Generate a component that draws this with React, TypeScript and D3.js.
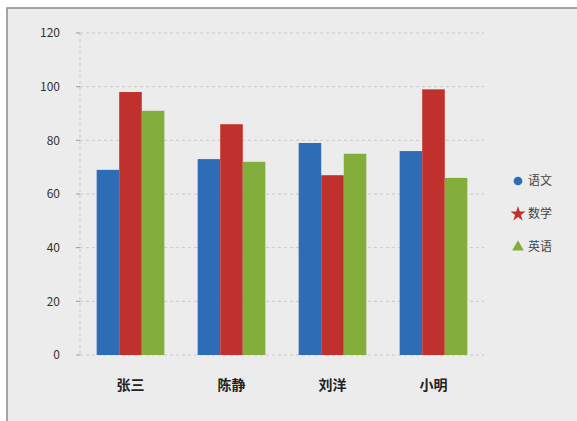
import React from "react";
import * as d3 from "d3";

const categories = ["张三", "陈静", "刘洋", "小明"];
const seriesNames = ["语文", "数学", "英语"];
const blueValues = [69, 73, 79, 76];
const redValues = [98, 86, 67, 99];
const greenValues = [91, 72, 75, 66];
const yTicks = [0, 20, 40, 60, 80, 100, 120];
const colors = ["#2f6cb6", "#c0302c", "#84ae3c"];

const W = 577;
const H = 421;
const left = 80;
const right = 484;
const top = 33;
const bottom = 355;

export default function App() {
  const series = [blueValues, redValues, greenValues];
  const y = d3.scaleLinear().domain([0, 120]).range([bottom, top]);
  const x0 = d3.scaleBand<string>().domain(categories).range([left, right]).padding(0);
  const bw = x0.bandwidth();
  const x1 = d3
    .scaleBand<string>()
    .domain(seriesNames)
    .range([bw * 0.165, bw * 0.835])
    .padding(0);
  const font = "'Noto Sans CJK SC', 'DejaVu Sans', sans-serif";
  const star = d3.symbol().type(d3.symbolStar).size(70)() as string;
  const circ = d3.symbol().type(d3.symbolCircle).size(60)() as string;
  const tri = d3.symbol().type(d3.symbolTriangle).size(60)() as string;
  const markers = [circ, star, tri];
  return (
    <div style={{ position: "fixed", left: 0, top: 0 }}>
      <svg width={W} height={H} style={{ display: "block", background: "#ffffff" }}>
        <rect x={7} y={8} width={W - 6} height={H - 7} fill="#ececec" stroke="#8a8a8a" strokeWidth={1.5} />
        {yTicks.map((t) => (
          <g key={t}>
            <line
              x1={left}
              x2={right}
              y1={y(t)}
              y2={y(t)}
              stroke="#c8c8c8"
              strokeWidth={1}
              strokeDasharray="3,3"
            />
            <line x1={left - 4} x2={left} y1={y(t)} y2={y(t)} stroke="#999" />
            <text
              x={left - 20}
              y={y(t)}
              dy="0.35em"
              textAnchor="end"
              fontSize={12}
              fontFamily={font}
              fill="#333"
            >
              {t}
            </text>
          </g>
        ))}
        <line x1={left} x2={left} y1={top} y2={bottom} stroke="#c8c8c8" strokeDasharray="3,3" />
        {categories.map((c, i) => (
          <g key={c} transform={`translate(${x0(c)},0)`}>
            {seriesNames.map((s, j) => (
              <rect
                key={s}
                x={x1(s)}
                y={y(series[j][i])}
                width={x1.bandwidth()}
                height={y(0) - y(series[j][i])}
                fill={colors[j]}
              />
            ))}
            <text
              x={bw / 2}
              y={390}
              textAnchor="middle"
              fontSize={14}
              fontWeight="bold"
              fontFamily={font}
              fill="#222"
            >
              {c}
            </text>
          </g>
        ))}
        {seriesNames.map((s, j) => (
          <g key={s} transform={`translate(518,${181 + j * 33})`}>
            <path d={markers[j]} fill={colors[j]} />
            <text x={10} dy="0.35em" fontSize={12} fontFamily={font} fill="#444">
              {s}
            </text>
          </g>
        ))}
      </svg>
    </div>
  );
}
